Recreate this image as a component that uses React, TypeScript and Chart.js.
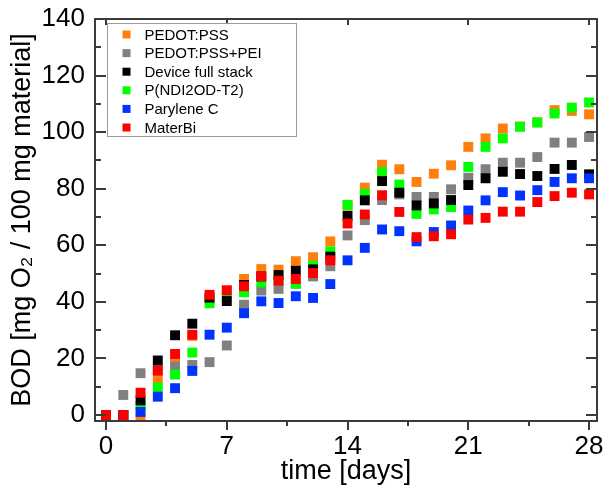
import React, { useEffect, useRef } from 'react';
import { Chart, registerables } from 'chart.js';

Chart.register(...registerables);

const FONT = "'Liberation Sans', Arial, Helvetica, sans-serif";

const days = [0, 1, 2, 3, 4, 5, 6, 7, 8, 9, 10, 11, 12, 13, 14, 15, 16, 17, 18, 19, 20, 21, 22, 23, 24, 25, 26, 27, 28];

const seriesLabels = ['PEDOT:PSS', 'PEDOT:PSS+PEI', 'Device full stack', 'P(NDI2OD-T2)', 'Parylene C', 'MaterBi'];
const seriesColors = ['#ff7f0e', '#808080', '#000000', '#00ff00', '#0033ff', '#ff0000'];
const seriesDrawOrder = [5, 4, 2, 3, 1, 0];

const pedotPss = [0, 0, -1.1, 12.4, 18.9, 28, 41, 44, 48.1, 51.6, 51.4, 54.4, 55.8, 61.4, 74, 80.4, 88.5, 86.9, 82.4, 85.3, 88.3, 94.8, 97.8, 101.3, 102, 103.5, 107.8, 107.5, 106.3];
const pedotPssPei = [0, 7.1, 14.8, 16, 17.1, 17.7, 18.7, 24.6, 39, 44, 44.6, 46.5, 49, 52.6, 63.5, 68.9, 76, 78, 77.1, 77.1, 79.8, 83.9, 86.9, 89.2, 89.2, 91.2, 96.3, 96.3, 98.3];
const deviceFullStack = [0, 0, 5.2, 19.3, 28.2, 32.3, 41.5, 40.3, 46, 49, 49.5, 51, 51.5, 56, 70.4, 75.9, 82.7, 78.6, 74.1, 74.8, 76, 81.3, 83.7, 86, 85.2, 84.5, 87, 88.4, 85.1];
const pNdi2odT2 = [0, 0, 3.3, 9.7, 14.3, 22.1, 39.5, 41.7, 43.4, 46.9, 48, 46.4, 52.8, 57.9, 74.3, 78.2, 85.9, 81.5, 71.1, 72.7, 73.5, 87.7, 94.8, 97.8, 101.9, 103.4, 106.6, 108.7, 110.5];
const paryleneC = [0, 0, 1.1, 6.5, 9.5, 15.6, 28.4, 30.9, 36, 40.2, 39.6, 42, 41.4, 46.3, 54.7, 59.1, 65.6, 65, 61.4, 64.7, 67, 72.3, 75.9, 78.8, 77.6, 79.5, 82.4, 83.7, 83.7];
const materBi = [0, 0, 7.9, 15.7, 21.6, 28.4, 42.5, 44.1, 45.5, 49, 47.5, 48.1, 50.2, 54.7, 67.7, 70.9, 77.7, 71.8, 62.9, 63.2, 63.9, 69.1, 69.7, 71.9, 71.9, 75.3, 77.4, 78.6, 78];

const seriesValues = [pedotPss, pedotPssPei, deviceFullStack, pNdi2odT2, paryleneC, materBi];

const xTickValues = [0, 7, 14, 21, 28];
const xMinorTickValues = [3.5, 10.5, 17.5, 24.5];
const yTickValues = [0, 20, 40, 60, 80, 100, 120, 140];
const yMinorTickValues = [10, 30, 50, 70, 90, 110, 130];

const xTitle = 'time [days]';
const yTitle = 'BOD [mg O\u2082 / 100 mg material]';

const framePlugin = {
  id: 'frameAndLegend',
  afterDatasetsDraw(chart: any) {
    const { ctx, chartArea: a, scales } = chart;
    const xs = scales.x;
    const ys = scales.y;
    ctx.save();
    ctx.strokeStyle = '#3a3a3a';
    ctx.lineWidth = 2;
    ctx.strokeRect(a.left, a.top, a.right - a.left, a.bottom - a.top);
    ctx.beginPath();
    for (const v of yTickValues) {
      const py = Math.round(ys.getPixelForValue(v));
      ctx.moveTo(a.left, py);
      ctx.lineTo(a.left + 11, py);
      ctx.moveTo(a.right, py);
      ctx.lineTo(a.right - 11, py);
    }
    for (const v of yMinorTickValues) {
      const py = Math.round(ys.getPixelForValue(v));
      ctx.moveTo(a.left, py);
      ctx.lineTo(a.left + 6, py);
      ctx.moveTo(a.right, py);
      ctx.lineTo(a.right - 6, py);
    }
    for (const v of xTickValues) {
      const px = Math.round(xs.getPixelForValue(v));
      ctx.moveTo(px, a.bottom);
      ctx.lineTo(px, a.bottom + 9);
      ctx.moveTo(px, a.top);
      ctx.lineTo(px, a.top + 6);
    }
    for (const v of xMinorTickValues) {
      const px = Math.round(xs.getPixelForValue(v));
      ctx.moveTo(px, a.bottom);
      ctx.lineTo(px, a.bottom + 5);
    }
    ctx.stroke();

    // legend box
    const bx = a.left + 12.5;
    const by = a.top + 4.5;
    const bw = 189;
    const bh = 113;
    ctx.fillStyle = '#ffffff';
    ctx.fillRect(bx, by, bw, bh);
    ctx.strokeStyle = '#9a9a9a';
    ctx.lineWidth = 1;
    ctx.strokeRect(bx, by, bw, bh);
    ctx.font = `15px ${FONT}`;
    ctx.textBaseline = 'middle';
    ctx.textAlign = 'left';
    chart.data.datasets.forEach((ds: any, i: number) => {
      const cy = by + 11 + i * 18.6;
      ctx.fillStyle = ds.backgroundColor;
      ctx.fillRect(bx + 15, cy - 4, 8, 8);
      ctx.fillStyle = '#000000';
      ctx.fillText(ds.label, bx + 37, cy + 1);
    });
    ctx.restore();
  },
};

export default function App() {
  const canvasRef = useRef<HTMLCanvasElement | null>(null);

  useEffect(() => {
    const canvas = canvasRef.current;
    if (!canvas) return;
    const datasets = seriesLabels.map((label, i) => ({
      label,
      data: days.map((d, j) => ({ x: d, y: seriesValues[i][j] })),
      backgroundColor: seriesColors[i],
      borderColor: seriesColors[i],
      borderWidth: 0,
      pointStyle: 'rect',
      pointRadius: 7,
      pointHoverRadius: 7,
      showLine: false,
      order: seriesDrawOrder[i],
    }));

    const chart = new Chart(canvas, {
      type: 'scatter',
      data: { datasets },
      options: {
        animation: false,
        responsive: false,
        devicePixelRatio: 1,
        events: [],
        layout: { padding: { top: 19, right: 10, left: 0, bottom: 0 } },
        plugins: {
          legend: { display: false },
          tooltip: { enabled: false },
        },
        scales: {
          x: {
            type: 'linear',
            min: -0.64,
            max: 28.46,
            afterBuildTicks: (s: any) => {
              s.ticks = xTickValues.map((v) => ({ value: v }));
            },
            afterFit: (s: any) => {
              s.height = 67;
              s.paddingLeft = 0;
              s.paddingRight = 0;
            },
            grid: { display: false, drawTicks: false },
            border: { display: false },
            ticks: {
              autoSkip: false,
              maxRotation: 0,
              padding: 10,
              color: '#000000',
              font: { family: FONT, size: 26 },
            },
            title: {
              display: true,
              text: xTitle,
              color: '#000000',
              font: { family: FONT, size: 27 },
              padding: { top: 0, bottom: 0 },
            },
          },
          y: {
            type: 'linear',
            min: -2.1,
            max: 140,
            afterBuildTicks: (s: any) => {
              s.ticks = yTickValues.map((v) => ({ value: v }));
            },
            afterFit: (s: any) => {
              s.width = 95;
              s.paddingTop = 0;
              s.paddingBottom = 0;
            },
            grid: { display: false, drawTicks: false },
            border: { display: false },
            ticks: {
              autoSkip: false,
              padding: 10,
              color: '#000000',
              font: { family: FONT, size: 26 },
            },
            title: {
              display: true,
              text: yTitle,
              color: '#000000',
              font: { family: FONT, size: 27 },
              padding: { top: 6, bottom: 0 },
            },
          },
        },
      },
      plugins: [framePlugin],
    } as any);

    return () => {
      chart.destroy();
    };
  }, []);

  return (
    <div style={{ position: 'fixed', left: 0, top: 0, width: 607, height: 488, background: '#ffffff' }}>
      <canvas ref={canvasRef} width={607} height={488} style={{ width: 607, height: 488, display: 'block' }} />
    </div>
  );
}
